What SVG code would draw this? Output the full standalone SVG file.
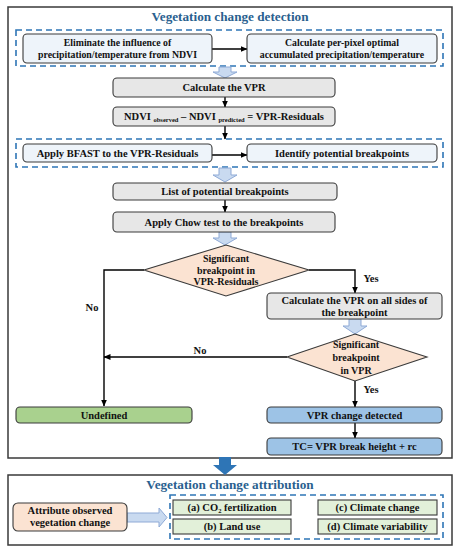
<svg xmlns="http://www.w3.org/2000/svg" width="458" height="550" viewBox="0 0 458 550">
<defs>
<marker id="ah" markerWidth="7" markerHeight="6" refX="6.5" refY="3" orient="auto" markerUnits="userSpaceOnUse">
<path d="M0,0 L7,3 L0,6 Z" fill="#000"/>
</marker>
<style>
text{font-family:"Liberation Serif","Times New Roman",serif;font-weight:bold;fill:#111;text-anchor:middle}
.t{font-size:10.5px}
.s{font-size:9.8px}
.d{font-size:10px}
.title{font-size:13.2px;fill:#2A5F8F}
.frame{fill:#fff;stroke:#3a3a3a;stroke-width:1.5}
.dash{fill:none;stroke:#2E75B6;stroke-width:1.6;stroke-dasharray:6,4}
.nb{stroke:#3a3a3a;stroke-width:1.1}
.lb{fill:#EEF4FA}
.gr{fill:#E7E7E7}
.pe{fill:#FBE3D2}
.gn{fill:#A9D18E}
.bl{fill:#9DC3E6}
.lg{fill:#E2F0D9}
.hol{fill:#C9DAF0;stroke:#8FAAD6;stroke-width:1}
.ln{fill:none;stroke:#000;stroke-width:1.4}
.sub{font-size:6.5px}
</style>
</defs>

<rect class="frame" x="8" y="7" width="444" height="451"/>
<text class="title" x="230" y="21">Vegetation change detection</text>
<rect class="dash" x="16" y="30" width="427" height="36"/>
<rect class="dash" x="16" y="139" width="427" height="28"/>

<rect class="frame" x="8" y="475" width="444" height="70"/>
<text class="title" x="230" y="489">Vegetation change attribution</text>
<rect class="dash" x="170" y="495" width="273" height="44"/>

<g id="connectors">
<line class="ln" x1="212" y1="49" x2="247" y2="49" marker-end="url(#ah)"/>
<polygon class="hol" points="219,67 231,67 231,72 237,72 225,78 213,72 219,72"/>
<line class="ln" x1="225" y1="97" x2="225" y2="107" marker-end="url(#ah)"/>
<line class="ln" x1="225" y1="126" x2="225" y2="139" marker-end="url(#ah)"/>
<line class="ln" x1="212" y1="155" x2="247" y2="155" marker-end="url(#ah)"/>
<polygon class="hol" points="219,168 231,168 231,175 237,175 225,182 213,175 219,175"/>
<line class="ln" x1="225" y1="200" x2="225" y2="212" marker-end="url(#ah)"/>
<polygon class="hol" points="219,232 231,232 231,238 237,238 225,245 213,238 219,238"/>
<polyline class="ln" points="144,270 104,270 104,406" marker-end="url(#ah)"/>
<text class="t" x="92" y="311">No</text>
<polyline class="ln" points="309,270 355,270 355,293" marker-end="url(#ah)"/>
<text class="t" x="371" y="282">Yes</text>
<polygon class="hol" points="349,319 361,319 361,326 367,326 355,334 343,326 349,326"/>
<line class="ln" x1="287" y1="357" x2="104" y2="357" marker-end="url(#ah)"/>
<text class="t" x="200" y="354">No</text>
<line class="ln" x1="355" y1="381" x2="355" y2="407" marker-end="url(#ah)"/>
<text class="t" x="371" y="393">Yes</text>
<line class="ln" x1="355" y1="423" x2="355" y2="438" marker-end="url(#ah)"/>
<polygon fill="#2E75B6" points="219,457 231,457 231,465 237,465 225,475 213,465 219,465"/>
<polygon class="hol" points="127,513 159,513 159,508 167,517.5 159,527 159,522 127,522"/>
</g>

<g id="n1"><rect class="nb lb" x="23" y="34" width="189" height="29" rx="4"/>
<text class="s" x="117.5" y="46">Eliminate the influence of</text>
<text class="s" x="117.5" y="58">precipitation/temperature from NDVI</text></g>
<g id="n2"><rect class="nb lb" x="247" y="34" width="190" height="29" rx="4"/>
<text class="s" x="342" y="46">Calculate per-pixel optimal</text>
<text class="s" x="342" y="58">accumulated precipitation/temperature</text></g>
<g id="n3"><rect class="nb gr" x="113" y="78" width="222" height="19" rx="4"/>
<text class="t" x="224" y="91">Calculate the VPR</text></g>
<g id="n4"><rect class="nb gr" x="113" y="107" width="222" height="19" rx="4"/>
<text class="t" x="224" y="120">NDVI <tspan class="sub" dy="2">observed</tspan><tspan dy="-2"> – NDVI </tspan><tspan class="sub" dy="2">predicted</tspan><tspan dy="-2"> = VPR-Residuals</tspan></text></g>
<g id="n5"><rect class="nb lb" x="23" y="144" width="189" height="18" rx="4"/>
<text class="t" x="117.5" y="157">Apply BFAST to the VPR-Residuals</text></g>
<g id="n6"><rect class="nb lb" x="247" y="144" width="190" height="18" rx="4"/>
<text class="t" x="342" y="157">Identify potential breakpoints</text></g>
<g id="n7"><rect class="nb gr" x="113" y="183" width="224" height="17" rx="4"/>
<text class="t" x="225" y="195">List of potential breakpoints</text></g>
<g id="n8"><rect class="nb gr" x="113" y="212" width="222" height="20" rx="4"/>
<text class="t" x="224" y="226">Apply Chow test to the breakpoints</text></g>
<g id="d1"><polygon class="nb pe" points="226,245 309,270 226,296 144,270"/>
<text class="d" x="226" y="262">Significant</text>
<text class="d" x="226" y="274">breakpoint in</text>
<text class="d" x="226" y="285">VPR-Residuals</text></g>
<g id="n9"><rect class="nb gr" x="267" y="293" width="175" height="26" rx="4"/>
<text class="t" x="354.5" y="304">Calculate the VPR on all sides of</text>
<text class="t" x="354.5" y="316">the breakpoint</text></g>
<g id="d2"><polygon class="nb pe" points="355,334 427,357 355,381 287,357"/>
<text class="d" x="356" y="348">Significant</text>
<text class="d" x="356" y="361">breakpoint</text>
<text class="d" x="356" y="374">in VPR</text></g>
<g id="n10"><rect class="nb gn" x="16" y="407" width="176" height="16" rx="4"/>
<text class="t" x="104" y="419">Undefined</text></g>
<g id="n11"><rect class="nb bl" x="267" y="407" width="175" height="16" rx="4"/>
<text class="t" x="354.5" y="419">VPR change detected</text></g>
<g id="n12"><rect class="nb bl" x="267" y="438" width="175" height="17" rx="4"/>
<text class="t" x="354.5" y="450">TC= VPR break height + rc</text></g>
<g id="n13"><rect class="nb pe" x="13" y="503" width="114" height="28" rx="5"/>
<text class="t" x="70" y="514">Attribute observed</text>
<text class="t" x="70" y="526">vegetation change</text></g>
<g id="na"><rect class="nb lg" x="173" y="500" width="118" height="15"/>
<text class="t" x="232" y="511">(a) CO<tspan class="sub" dy="2">2</tspan><tspan dy="-2"> fertilization</tspan></text></g>
<g id="nc"><rect class="nb lg" x="318" y="500" width="119" height="15"/>
<text class="t" x="377.5" y="511">(c) Climate change</text></g>
<g id="nb"><rect class="nb lg" x="173" y="519" width="118" height="15"/>
<text class="t" x="232" y="530">(b) Land use</text></g>
<g id="nd"><rect class="nb lg" x="318" y="519" width="119" height="15"/>
<text class="t" x="377.5" y="530">(d) Climate variability</text></g>
</svg>
